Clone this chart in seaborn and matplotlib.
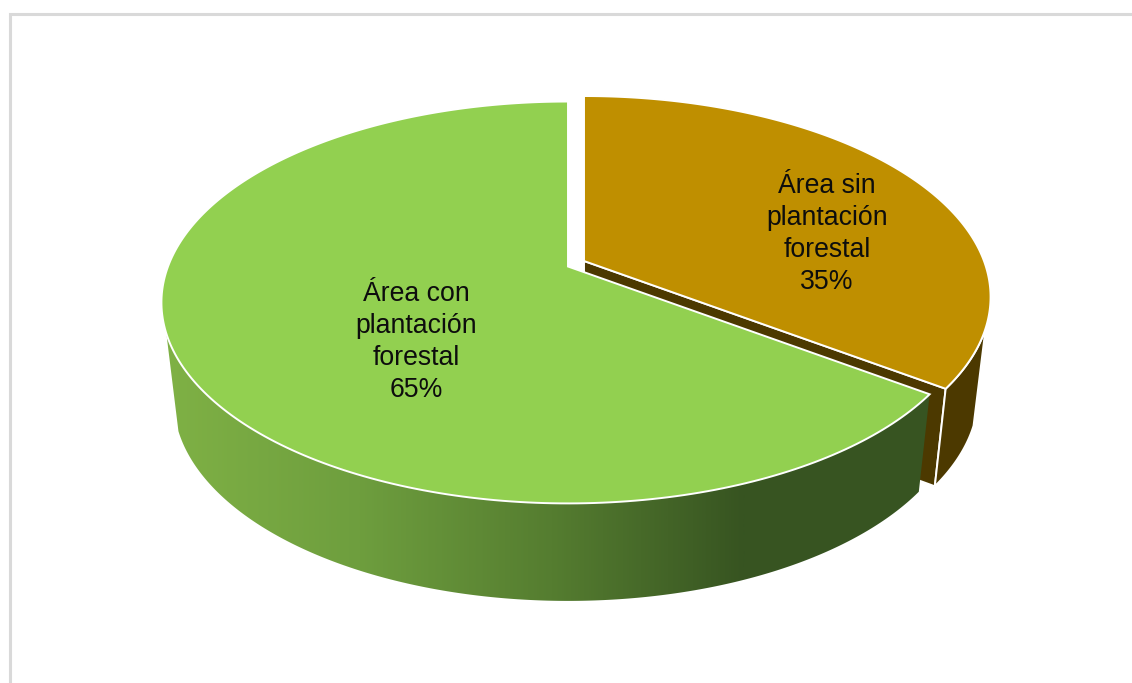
import numpy as np
import matplotlib
matplotlib.use("Agg")
import matplotlib.pyplot as plt
from matplotlib.patches import Polygon
import seaborn as sns

# Land-use shares of the forest area
labels = ["Área sin\nplantación\nforestal", "Área con\nplantación\nforestal"]
shares = [35, 65]

sns.set_theme(style="white")
plt.rcParams["font.family"] = ["Liberation Sans", "DejaVu Sans"]

BROWN_TOP = "#BF8F00"
BROWN_WALL = "#4C3900"
GREEN_TOP = "#92D050"
FRAME = "#D9D9D9"
green_wall = sns.blend_palette(["#7FB145", "#6E9E3E", "#557D30", "#375421"], as_cmap=True)

fig = plt.figure(figsize=(11.32, 6.83), dpi=100)
ax = fig.add_axes([0, 0, 1, 1])
ax.set_xlim(0, 1132)
ax.set_ylim(683, 0)
ax.axis("off")

# Perspective projection of the tilted disc: the far rim shrinks, the near rim grows
RX, RY, TILT = 400.0, 194.5, 0.179
WALL_DROP, WALL_SHRINK = 97.5, 0.97
RIM_START = 109.0  # wall becomes visible this far round from twelve o'clock


def rim(theta_deg, tip, bottom=False):
    t = np.radians(theta_deg)
    w = 1 + TILT * np.cos(t)
    x = RX * np.sin(t) / w
    y = -RY * np.cos(t) / w
    if bottom:
        return np.column_stack([tip[0] + WALL_SHRINK * x, tip[1] + WALL_DROP + y])
    return np.column_stack([tip[0] + x, tip[1] + y])


def top_face(start, end, tip, colour, z):
    arc = rim(np.linspace(start, end, 240), tip)
    pts = np.vstack([[tip], arc])
    ax.add_patch(Polygon(pts, closed=True, fc=colour, ec="white", lw=1.4, zorder=z, joinstyle="miter"))


def wall_outline(start, end, tip):
    angles = np.linspace(start, end, 240)
    return np.vstack([rim(angles, tip), rim(angles[::-1], tip, bottom=True)])


angle_brown = 360 * shares[0] / sum(shares)
brown_tip = (584.0, 261.0)
green_tip = (568.0, 266.5)

# Brown slice: cut face behind, then outer wall, then the top
brown_end = rim(np.array([angle_brown]), brown_tip)[0]
brown_end_low = rim(np.array([angle_brown]), brown_tip, bottom=True)[0]
cut_face = np.array([brown_tip, brown_end, brown_end_low, (brown_tip[0], brown_tip[1] + WALL_DROP)])
ax.add_patch(Polygon(cut_face, closed=True, fc=BROWN_WALL, ec="white", lw=1.4, zorder=1))
ax.add_patch(Polygon(wall_outline(RIM_START, angle_brown, brown_tip), closed=True,
                     fc=BROWN_WALL, ec="white", lw=1.4, zorder=2))
top_face(0, angle_brown, brown_tip, BROWN_TOP, 3)

# Green slice: outer wall carries a horizontal shading
outline = wall_outline(angle_brown, 360 - RIM_START, green_tip)
clip = Polygon(outline, closed=True, fc="none", ec="none", transform=ax.transData)
ax.add_patch(clip)
shade = np.linspace(0, 1, 512).reshape(1, -1)
img = ax.imshow(shade, cmap=green_wall, extent=(outline[:, 0].min(), 745, 683, 0),
                aspect="auto", zorder=4)
img.set_clip_path(clip)
beyond = ax.imshow(np.ones((1, 2)), cmap=green_wall, vmin=0, vmax=1,
                   extent=(745, outline[:, 0].max() + 2, 683, 0), aspect="auto", zorder=4)
beyond.set_clip_path(clip)
ax.set_xlim(0, 1132)
ax.set_ylim(683, 0)
top_face(angle_brown, 360, green_tip, GREEN_TOP, 5)

# Slice captions
label_at = [(827, 234), (416, 342)]
for text, share, (lx, ly) in zip(labels, shares, label_at):
    ax.text(lx, ly, f"{text}\n{share}%", ha="center", va="center", fontsize=19.2,
            color="#0D0D0D", linespacing=1.31, zorder=6)

# Frame around the chart area, running off the right and bottom edges
ax.plot([9.5, 9.5, 1132], [683, 13.5, 13.5], color=FRAME, lw=2.2, zorder=0,
        solid_joinstyle="miter")

fig.savefig("out.png", dpi=100, facecolor="white")
